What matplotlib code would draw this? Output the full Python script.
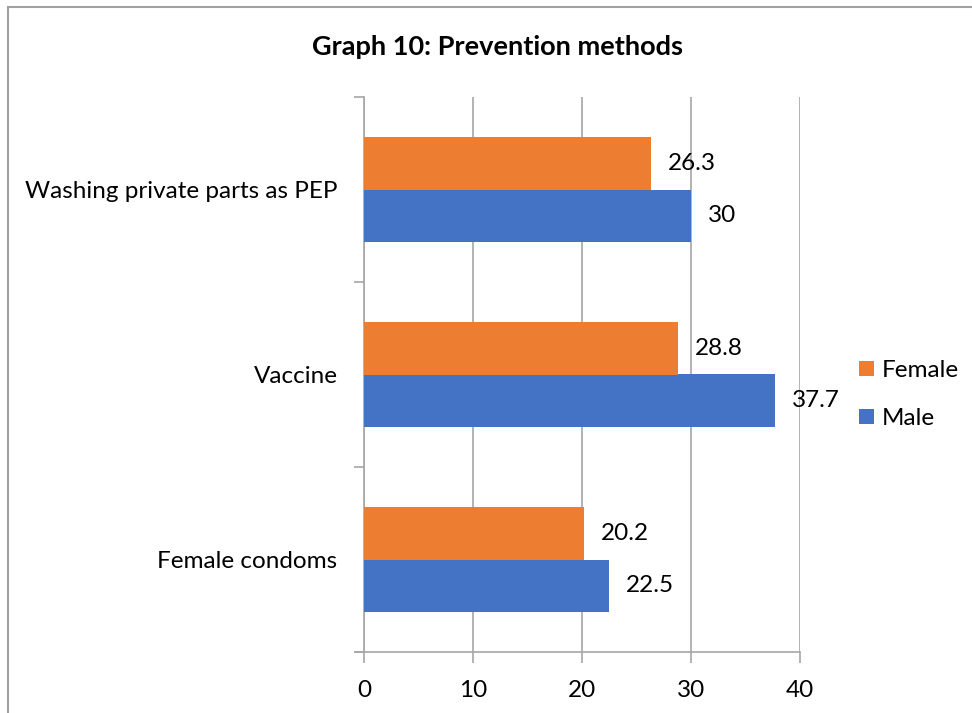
import numpy as np
import matplotlib.pyplot as plt
from matplotlib.patches import Rectangle

categories = ['Female condoms', 'Vaccine', 'Washing private parts as PEP']
female = [20.2, 28.8, 26.3]
male = [22.5, 37.7, 30]
xticks = [0, 10, 20, 30, 40]

plt.rcParams['font.family'] = ['Lato', 'DejaVu Sans']

ORANGE = '#ED7D31'
BLUE = '#4472C4'
GRID = '#A6A6A6'
FS = 17.5

fig = plt.figure(figsize=(9.72, 7.13), dpi=100)
W, H = 972, 713
ax = fig.add_axes([364 / W, 1 - 652 / H, (800 - 364) / W, (652 - 97) / H])

y = np.arange(len(categories))
h = 0.284
ax.barh(y - h / 2, male, height=h, color=BLUE, label='Male', zorder=3)
ax.barh(y + h / 2, female, height=h, color=ORANGE, label='Female', zorder=3)

for yi, v in zip(y, female):
    ax.annotate(f'{v:g}', (v, yi + h / 2), xytext=(17, 0), textcoords='offset pixels',
                va='center', ha='left', fontsize=FS)
for yi, v in zip(y, male):
    ax.annotate(f'{v:g}', (v, yi - h / 2), xytext=(17, 0), textcoords='offset pixels',
                va='center', ha='left', fontsize=FS)

ax.set_xlim(0, 40)
ax.set_ylim(-0.5, len(categories) - 0.5)
ax.set_xticks(xticks)
ax.grid(axis='x', color=GRID, linewidth=1.2, zorder=0)

# category labels at centres, tick marks at the boundaries
ax.set_yticks(y)
ax.set_yticklabels(categories, fontsize=FS)
ax.set_yticks(np.arange(-0.5, len(categories), 1), minor=True)
ax.tick_params(axis='y', which='major', length=0, pad=19)
ax.tick_params(axis='y', which='minor', length=7, color=GRID, width=1.2)
ax.tick_params(axis='x', length=8, color=GRID, width=1.2, labelsize=FS, pad=12)

for s in ['top', 'right']:
    ax.spines[s].set_visible(False)
for s in ['left', 'bottom']:
    ax.spines[s].set_color(GRID)
    ax.spines[s].set_linewidth(1.2)
ax.spines['bottom'].set_bounds(-0.7, 40)

fig.text(497 / W, 1 - 47 / H, 'Graph 10: Prevention methods', ha='center', va='center',
         fontsize=19.5, fontweight='bold')

handles, labels = ax.get_legend_handles_labels()
leg = fig.legend(handles[::-1], labels[::-1], loc='center left',
                 bbox_to_anchor=(842 / W, 1 - 394.5 / H), frameon=False, fontsize=FS,
                 handlelength=0.6, handleheight=0.6, handletextpad=0.35, labelspacing=1.12,
                 borderpad=0.2)

# chart border
fig.add_artist(Rectangle((8 / W, -0.01), 1.1, 1 - 7 / H + 0.01, transform=fig.transFigure,
                         fill=False, edgecolor='#A0A0A0', linewidth=1.5))

fig.savefig('out.png', dpi=100)
